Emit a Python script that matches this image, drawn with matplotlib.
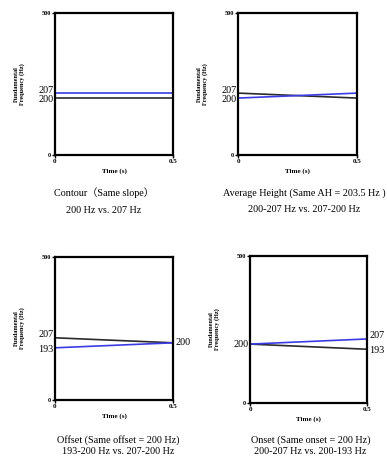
import numpy as np
import matplotlib.pyplot as plt
from matplotlib.transforms import offset_copy

plt.rcParams['font.family'] = ['Liberation Serif', 'Noto Sans CJK SC', 'DejaVu Serif']

# time points (s)
t = [0, 0.5]

# contours per panel: (black, blue)
contour_black = [200, 200]
contour_blue = [207, 207]
avg_black = [207, 200]
avg_blue = [200, 207]
offset_black = [207, 200]
offset_blue = [193, 200]
onset_black = [200, 193]
onset_blue = [200, 207]

panels = [
    dict(black=contour_black, blue=contour_blue, lticks=[207, 200], rticks=[],
         title=["Contour（Same slope）", "200 Hz vs. 207 Hz"]),
    dict(black=avg_black, blue=avg_blue, lticks=[207, 200], rticks=[],
         title=["Average Height (Same AH = 203.5 Hz )", "200-207 Hz vs. 207-200 Hz"]),
    dict(black=offset_black, blue=offset_blue, lticks=[207, 193], rticks=[200],
         title=["Offset (Same offset = 200 Hz)", "193-200 Hz vs. 207-200 Hz"]),
    dict(black=onset_black, blue=onset_blue, lticks=[200], rticks=[207, 193],
         title=["Onset (Same onset = 200 Hz)", "200-207 Hz vs. 200-193 Hz"]),
]

# axes rectangles and title positions (figure fraction)
rects = [[0.142, 0.6645, 0.305, 0.308],
         [0.615, 0.6645, 0.3075, 0.308],
         [0.142, 0.134, 0.305, 0.310],
         [0.646, 0.128, 0.302, 0.318]]
title_pos = [(0.268, 0.582, 0.545), (0.787, 0.582, 0.547),
             (0.306, 0.048, 0.022), (0.802, 0.048, 0.022)]

# the original figure spreads the lines apart around 200 Hz
yk = [0, 193, 200, 207, 500]
yd = [0, 182.5, 200, 217.5, 500]
fwd = lambda y: np.interp(y, yk, yd)
inv = lambda y: np.interp(y, yd, yk)


def value_labels(ax, vals, x, ha):
    for i, v in enumerate(vals):
        tr = ax.get_yaxis_transform()
        if len(vals) == 2:
            tr = offset_copy(tr, fig=ax.figure, y=2.2 if i == 0 else -1.2, units='points')
        ax.text(x, v, str(v), transform=tr, ha=ha, va='center', fontsize=7.3)


fig = plt.figure(figsize=(3.87, 4.62), dpi=100)

for p, r, tp in zip(panels, rects, title_pos):
    ax = fig.add_axes(r)
    ax.set_yscale('function', functions=(fwd, inv))
    ax.plot(t, p['black'], color='#2a2a2a', lw=1.2)
    ax.plot(t, p['blue'], color='#3b3be6', lw=1.2)
    ax.set_xlim(0, 0.5)
    ax.set_ylim(0, 500)
    for s in ax.spines.values():
        s.set_linewidth(1.6)
    ax.set_xticks([0, 0.5])
    ax.set_xticklabels(['0', '0.5'], fontsize=5, fontweight='bold')
    ax.set_yticks([0, 500])
    ax.set_yticklabels(['0', '500'], fontsize=4.5, fontweight='bold')
    ax.tick_params(length=2, width=1, pad=1)
    value_labels(ax, p['lticks'], -0.015, 'right')
    value_labels(ax, p['rticks'], 1.02, 'left')
    ax.set_xlabel('Time (s)', fontsize=5, fontweight='bold', labelpad=3)
    ax.set_ylabel('Fundamental\nFrequency (Hz)', fontsize=4.5, fontweight='bold',
                  labelpad=12, linespacing=1.1)
    fig.text(tp[0], tp[1], p['title'][0], ha='center', va='center', fontsize=7.3)
    fig.text(tp[0], tp[2], p['title'][1], ha='center', va='center', fontsize=7.3)

fig.savefig('out.png', dpi=100)
